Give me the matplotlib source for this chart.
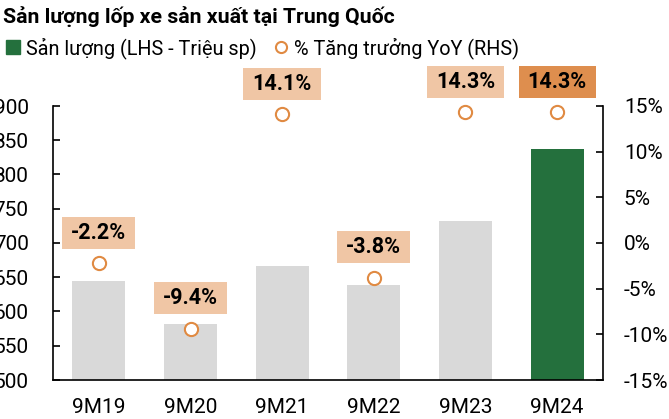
import matplotlib
matplotlib.use("Agg")
import matplotlib.pyplot as plt
from matplotlib.lines import Line2D

plt.rcParams['font.family'] = ['Roboto', 'DejaVu Sans']

categories = ["9M19", "9M20", "9M21", "9M22", "9M23", "9M24"]
production = [644, 582, 666, 639, 732, 837]
growth = [-2.2, -9.4, 14.1, -3.8, 14.3, 14.3]
growth_labels = ["-2.2%", "-9.4%", "14.1%", "-3.8%", "14.3%", "14.3%"]
left_ticks = [500, 550, 600, 650, 700, 750, 800, 850, 900]
right_ticks = [-15, -10, -5, 0, 5, 10, 15]

GREY = "#D9D9D9"
GREEN = "#24703D"
ORANGE = "#E08A42"
LIGHT = "#F0C6A5"
DARK = "#DE8E4E"

fig = plt.figure(figsize=(6.69, 4.19), dpi=100)
ax = fig.add_axes([53/669, 1-380/419, 550/669, 274/419])
ax2 = ax.twinx()

x = list(range(len(categories)))
colors = [GREY]*(len(categories)-1) + [GREEN]
ax.bar(x, production, width=0.58, color=colors, zorder=1)
ax.set_ylim(500, 900)
ax.set_yticks(left_ticks)
ax.set_xlim(-0.5, len(categories)-0.5)
ax.set_xticks(x)
ax.set_xticklabels(categories)

ax2.set_ylim(-15, 15)
ax2.set_yticks(right_ticks)
ax2.set_yticklabels([f"{t}%" for t in right_ticks])
ax2.plot(x, growth, linestyle='none', marker='o', markersize=9.5,
         markerfacecolor='white', markeredgecolor=ORANGE, markeredgewidth=1.5,
         zorder=3, clip_on=False)

for i, (g, lab) in enumerate(zip(growth, growth_labels)):
    fc = DARK if i == len(growth)-1 else LIGHT
    ax2.annotate(lab, (i, g), xytext=(0, 22), textcoords='offset points',
                 ha='center', va='center', fontsize=15.5, fontweight='bold',
                 color='black', annotation_clip=False,
                 bbox=dict(boxstyle='square,pad=0.42', fc=fc, ec='none',
                           mutation_aspect=0.55))

for a in (ax, ax2):
    a.spines['top'].set_visible(False)
    a.tick_params(direction='in', length=5, width=1.2, labelsize=15)
ax.tick_params(axis='y', pad=17.5)
ax2.tick_params(axis='y', pad=15)
for s in ['left', 'bottom', 'right']:
    ax.spines[s].set_linewidth(1.2)
    ax2.spines[s].set_linewidth(1.2)
ax.spines['right'].set_visible(False)
ax2.spines['left'].set_visible(False)
ax2.spines['bottom'].set_visible(False)
ax.tick_params(axis='x', length=0, pad=13)

fig.text(3/669, 1-17/419, "Sản lượng lốp xe sản xuất tại Trung Quốc",
         fontsize=15.3, fontweight='bold', ha='left', va='center')

handles = [
    Line2D([], [], linestyle='none', marker='s', markersize=10,
           markerfacecolor=GREEN, markeredgecolor=GREEN),
    Line2D([], [], linestyle='none', marker='o', markersize=8,
           markerfacecolor='white', markeredgecolor=ORANGE, markeredgewidth=1.5),
]
fig.legend(handles, ["Sản lượng (LHS - Triệu sp)", "% Tăng trưởng YoY (RHS)"],
           loc='center left', bbox_to_anchor=(2/669, 1-48/419), ncol=2, frameon=False,
           fontsize=14.3, handlelength=0.7, handletextpad=0.3, columnspacing=0.9,
           borderaxespad=0, borderpad=0.2)

fig.savefig("out.png", dpi=100)
